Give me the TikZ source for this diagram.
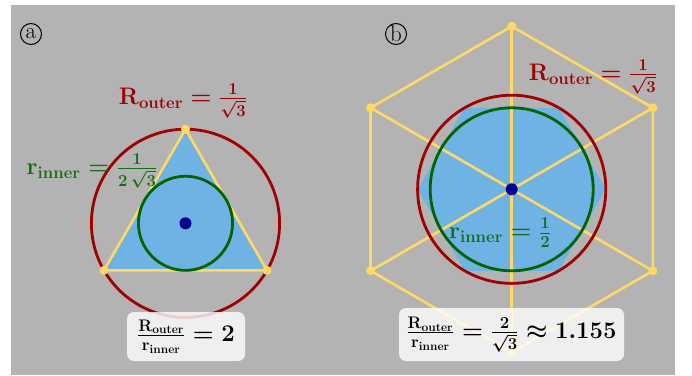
\RequirePackage{fix-cm}
\documentclass[tikz,border=0pt]{standalone}
\usepackage{amsmath}
\definecolor{bggray}{RGB}{179,179,179}
\definecolor{fillblue}{RGB}{111,179,228}
\definecolor{outred}{RGB}{160,0,0}
\definecolor{ingreen}{RGB}{0,100,0}
\definecolor{labgreen}{RGB}{20,110,20}
\definecolor{hexyellow}{RGB}{255,217,102}
\definecolor{navydot}{RGB}{0,0,140}
\newcommand{\Rlab}{\mathbf{R}_{\mathbf{outer}}}
\newcommand{\rlab}{\mathbf{r}_{\mathbf{inner}}}
\newcommand{\bigfont}{\fontsize{24}{28}\selectfont\boldmath}
\newcommand{\panelfont}{\fontsize{23}{26}\selectfont}
\tikzset{
  yedge/.style={draw=hexyellow, line width=2.6bp, line join=round},
  outcirc/.style={draw=outred, line width=2.8bp},
  incirc/.style={draw=ingreen, line width=2.8bp},
  vdot/.style={circle, fill=hexyellow, inner sep=0pt, minimum size=9bp},
  cdot/.style={circle, fill=navydot, inner sep=0pt, minimum size=12bp},
  mlabel/.style={inner sep=0pt, font=\bigfont},
  ratiobox/.style={fill=white, fill opacity=0.8, text opacity=1, rounded corners=7bp, inner sep=0pt, font=\bigfont},
  panel/.style={circle, draw=black, line width=1bp, inner sep=0pt, minimum size=21bp, font=\panelfont}
}
\begin{document}
\begin{tikzpicture}[x=1bp,y=1bp]
\useasboundingbox (0,0) rectangle (692,375);
\fill[bggray] (11,0) rectangle (675,370);

% ---------- panel a ----------
\begin{scope}[shift={(185.5,151.7)}]
  \coordinate (Ca) at (0,0);
  \coordinate (A1) at (90:94.1);
  \coordinate (A2) at (210:94.1);
  \coordinate (A3) at (330:94.1);
  \fill[fillblue] (A1) -- (A2) -- (A3) -- cycle;
  \draw[yedge] (A1) -- (A2) -- (A3) -- cycle;
  \draw[outcirc] (Ca) circle[radius=94.1];
  \draw[incirc] (Ca) circle[radius=47.05];
  \node[vdot] (dA1) at (A1) {};
  \node[vdot] (dA2) at (A2) {};
  \node[vdot] (dA3) at (A3) {};
  \node[cdot] (cA) at (Ca) {};
\end{scope}
\node[mlabel, text=outred] (Ra) at (183,274) {$\Rlab=\frac{\mathbf{1}}{\sqrt{\mathbf{3}}}$};
\node[mlabel, text=labgreen] (ra) at (92,204) {$\rlab=\frac{\mathbf{1}}{\mathbf{2}\,\sqrt{\mathbf{3}}}$};
\node[ratiobox, minimum width=118bp, minimum height=49bp] (boxa) at (186,38.5) {$\frac{\Rlab}{\rlab}=\mathbf{2}$};
\node[panel] (pa) at (31,341) {\raisebox{1bp}{a}};

% ---------- panel b ----------
\begin{scope}[shift={(511.7,185.7)}]
  \coordinate (Cb) at (0,0);
  \foreach \k in {1,...,6} {
    \coordinate (H\k) at ({30+60*\k}:163);
    \coordinate (B\k) at ({60*\k}:94.1);
  }
  \fill[fillblue] (B1) -- (B2) -- (B3) -- (B4) -- (B5) -- (B6) -- cycle;
  \draw[yedge] (H1) -- (H2) -- (H3) -- (H4) -- (H5) -- (H6) -- cycle;
  \draw[yedge] (H1) -- (H4);
  \draw[yedge] (H2) -- (H5);
  \draw[yedge] (H3) -- (H6);
  \draw[outcirc] (Cb) circle[radius=94.1];
  \draw[incirc] (Cb) circle[radius=81.5];
  \foreach \k in {1,...,6} { \node[vdot] (dH\k) at (H\k) {}; }
  \node[cdot] (cB) at (Cb) {};
\end{scope}
\node[mlabel, text=outred] (Rb) at (593,298) {$\Rlab=\frac{\mathbf{1}}{\sqrt{\mathbf{3}}}$};
\node[mlabel, text=labgreen] (rb) at (500,142) {$\rlab=\frac{\mathbf{1}}{\mathbf{2}}$};
\node[ratiobox, minimum width=225bp, minimum height=53bp] (boxb) at (511.5,40.5) {$\frac{\Rlab}{\rlab}=\frac{\mathbf{2}}{\sqrt{\mathbf{3}}}\approx\mathbf{1.155}$};
\node[panel] (pb) at (396,341) {\raisebox{1bp}{b}};
\end{tikzpicture}
\end{document}
